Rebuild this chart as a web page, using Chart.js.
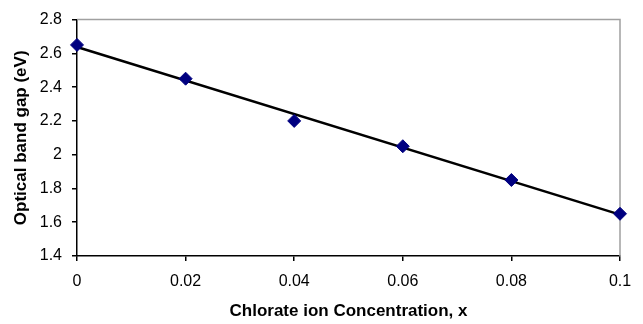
<!DOCTYPE html>
<html>
<head>
<meta charset="utf-8">
<script src="https://cdn.jsdelivr.net/npm/chart.js@4/dist/chart.umd.min.js"></script>
<style>
html,body{margin:0;padding:0;background:#fff;}
#wrap{width:643px;height:324px;position:relative;}
</style>
</head>
<body>
<div id="wrap"><canvas id="c" width="643" height="324"></canvas></div>
<script>
// Data
const concentrations = [0, 0.02, 0.04, 0.06, 0.08, 0.1];
const bandGaps = [2.65, 2.45, 2.2, 2.05, 1.85, 1.65];
// Linear trend line end points
const trendX = [0, 0.1];
const trendY = [2.638, 1.645];
const xTicks = [0, 0.02, 0.04, 0.06, 0.08, 0.1];
const yTicks = [1.4, 1.6, 1.8, 2, 2.2, 2.4, 2.6, 2.8];
const xTitle = 'Chlorate ion Concentration, x';
const yTitle = 'Optical band gap (eV)';

const FONT = '"Liberation Sans", Arial, sans-serif';

const borderPlugin = {
  id: 'areaBorder',
  beforeDatasetsDraw(chart) {
    const a = chart.chartArea, ctx = chart.ctx;
    ctx.save();
    ctx.strokeStyle = '#a0a0a0';
    ctx.lineWidth = 1.5;
    ctx.beginPath();
    ctx.moveTo(a.left, a.top);
    ctx.lineTo(a.right, a.top);
    ctx.lineTo(a.right, a.bottom);
    ctx.stroke();
    ctx.restore();
  }
};

new Chart(document.getElementById('c'), {
  type: 'scatter',
  data: {
    datasets: [
      {
        type: 'line',
        data: trendX.map((x, i) => ({x: x, y: trendY[i]})),
        borderColor: '#000000',
        borderWidth: 2.5,
        pointRadius: 0,
        fill: false,
        clip: false,
        order: 2
      },
      {
        data: concentrations.map((x, i) => ({x: x, y: bandGaps[i]})),
        pointStyle: 'rectRot',
        pointRadius: 6.5,
        pointBackgroundColor: '#000080',
        pointBorderColor: '#000080',
        pointBorderWidth: 1,
        showLine: false,
        clip: false,
        order: 1
      }
    ]
  },
  options: {
    responsive: false,
    animation: false,
    devicePixelRatio: 1,
    layout: {padding: {left: 0, right: 23, top: 14, bottom: 0}},
    plugins: {legend: {display: false}, tooltip: {enabled: false}},
    scales: {
      x: {
        type: 'linear',
        min: 0, max: 0.1,
        afterBuildTicks: s => { s.ticks = xTicks.map(v => ({value: v})); },
        afterFit: s => { s.height = 68; },
        ticks: {
          color: '#000',
          font: {family: FONT, size: 16},
          padding: 11,
          maxRotation: 0,
          callback: v => String(v)
        },
        grid: {drawOnChartArea: false, tickLength: 5, color: '#000', lineWidth: 1.5},
        border: {color: '#000', width: 1.5},
        title: {
          display: true, text: xTitle, color: '#000',
          font: {family: FONT, size: 17, weight: 'bold'},
          padding: {top: 2, bottom: 2}
        }
      },
      y: {
        type: 'linear',
        min: 1.4, max: 2.8,
        afterBuildTicks: s => { s.ticks = yTicks.map(v => ({value: v})); },
        afterFit: s => { s.width = 77; },
        ticks: {
          color: '#000',
          font: {family: FONT, size: 16},
          padding: 10,
          callback: v => String(Math.round(v * 10) / 10)
        },
        grid: {drawOnChartArea: false, tickLength: 5, color: '#000', lineWidth: 1.5},
        border: {color: '#000', width: 1.5},
        title: {
          display: true, text: yTitle, color: '#000',
          font: {family: FONT, size: 17, weight: 'bold'},
          padding: {top: 11, bottom: 4}
        }
      }
    }
  },
  plugins: [borderPlugin]
});
</script>
</body>
</html>
